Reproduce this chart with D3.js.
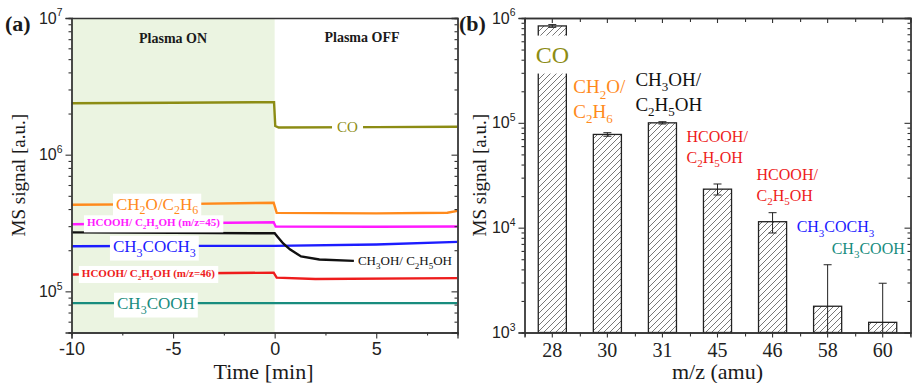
<!DOCTYPE html>
<html>
<head>
<meta charset="utf-8">
<script src="https://cdn.jsdelivr.net/npm/d3@7"></script>
<style>
  body { margin: 0; background: #fff; }
</style>
</head>
<body>
<svg id="chart" width="914" height="383"></svg>
<script>
// ---- panel (a): MS traces, [time (min), signal] ----
const timeTicks = [-10, -5, 0, 5];
const timeMinorTicks = [-7.5, -2.5, 2.5, 7.5];

const coTrace = [[-10, 2.38e6], [-5, 2.4e6], [-0.03, 2.42e6], [0.03, 1.62e6], [0.2, 1.58e6], [5, 1.59e6], [9, 1.6e6]];
const ch2oTrace = [[-10, 4.3e5], [-5, 4.35e5], [-0.05, 4.45e5], [0.1, 3.75e5], [5, 3.72e5], [8.5, 3.76e5], [9, 3.88e5]];
const hcooh45Trace = [[-10, 3.1e5], [-5, 3.15e5], [-0.05, 3.2e5], [0.05, 2.98e5], [5, 2.97e5], [9, 2.98e5]];
const acetoneTrace = [[-10, 2.14e5], [-5, 2.15e5], [0, 2.15e5], [5, 2.2e5], [9, 2.3e5]];
const methanolTrace = [[-10, 2.7e5], [-5, 2.68e5], [0, 2.66e5], [0.15, 2.5e5], [0.42, 2.24e5], [0.75, 2.03e5], [1.3, 1.8e5], [2.2, 1.71e5], [3.9, 1.67e5]];
const hcooh46Trace = [[-10, 1.33e5], [-5, 1.35e5], [-0.05, 1.37e5], [0.1, 1.26e5], [2, 1.23e5], [9, 1.25e5]];
const aceticTrace = [[-10, 8.2e4], [0, 8.2e4], [9, 8.2e4]];

const traceLabels = ['CO', 'CH_2O/C_2H_6', 'HCOOH/ C_2H_5OH (m/z=45)', 'CH_3COCH_3', 'CH_3OH/ C_2H_5OH', 'HCOOH/ C_2H_5OH (m/z=46)', 'CH_3COOH'];
const traceLabelTime = [3.07, -7.81, -9.24, -7.96, 4.1, -9.49, -7.76];
const traceLabelSignal = [1.6e6, 4.35e5, 3.18e5, 2.14e5, 1.67e5, 1.355e5, 8.2e4];

// ---- panel (b): bars ----
const massNumbers = ['28', '30', '31', '45', '46', '58', '60'];
const barSignal = [8.4e5, 7.75e4, 1.0e5, 2.33e4, 1.14e4, 1.78e3, 1.25e3];
const barError = [2.5e4, 3e3, 2.5e3, 2.8e3, 2.5e3, 2.65e3, 1.7e3];
const barLabels = [['CO'], ['CH_2O/', 'C_2H_6'], ['CH_3OH/', 'C_2H_5OH'], ['HCOOH/', 'C_2H_5OH'], ['HCOOH/', 'C_2H_5OH'], ['CH_3COCH_3'], ['CH_3COOH']];
const barLabelSignal = [4.47e5, 2.2e5, 2.58e5, 7.37e4, 3.2e4, 1.02e4, 6.3e3];

const colors = {
  co: '#8c8c14', orange: '#ff8a1c', magenta: '#ff1aff', black: '#111',
  blue: '#1c1cff', red: '#ee1c1c', teal: '#188c7e'
};
const serif = 'Liberation Serif';
const sans = 'Liberation Sans';
const axisColor = '#333';

const svg = d3.select('#chart');

// text with "_n" subscripts
function chem(t, str, size) {
  const parts = str.split(/_(\d)/);
  const shift = size * 0.28;
  let cur = 0;
  parts.forEach((p, i) => {
    if (!p) return;
    const target = i % 2 ? shift : 0;
    t.append('tspan')
      .attr('dy', target - cur)
      .attr('font-size', i % 2 ? Math.round(size * 0.68) : size)
      .text(p);
    cur = target;
  });
}

function tag(g, str, x, y, o) {
  const t = g.append('text')
    .attr('x', x).attr('y', y + o.size * 0.33)
    .attr('font-family', serif)
    .attr('fill', o.color)
    .attr('font-size', o.size)
    .attr('font-weight', o.bold ? 'bold' : null)
    .attr('text-anchor', o.anchor || 'start');
  chem(t, str, o.size);
  if (o.bg) {
    const b = t.node().getBBox();
    const px = o.padX ?? 3, py = o.padY ?? 1;
    g.insert('rect', () => t.node())
      .attr('x', b.x - px).attr('y', b.y - py)
      .attr('width', b.width + 2 * px).attr('height', b.height + 2 * py)
      .attr('fill', '#fff');
  }
  return t;
}

function powerLabels(axisG, size) {
  axisG.attr('font-family', sans);
  axisG.selectAll('.tick text').each(function (d) {
    const t = d3.select(this).text('');
    t.attr('font-family', sans).attr('font-size', size).attr('fill', '#222');
    t.append('tspan').text('10');
    t.append('tspan').attr('dy', -size * 0.45).attr('font-size', size * 0.65).text(Math.round(Math.log10(d)));
  });
}

function styleAxis(g) {
  g.select('.domain').attr('stroke', axisColor).attr('stroke-width', 1.3);
  g.selectAll('.tick line').attr('stroke', axisColor).attr('stroke-width', 1.1);
}

function title(g, str, x, y, size, opts = {}) {
  return g.append('text').attr('x', x).attr('y', y)
    .attr('font-family', serif).attr('font-size', size)
    .attr('font-weight', opts.bold ? 'bold' : null)
    .attr('text-anchor', opts.anchor || 'middle')
    .attr('transform', opts.rotate ? `rotate(-90,${x},${y})` : null)
    .attr('fill', '#1a1a1a').text(str);
}

// ================= panel (a) =================
const aLeft = 71.5, aRight = 457.5, plotTop = 18, plotBottom = 332.5;
const xA = d3.scaleLinear([-10, 9], [aLeft, aRight]);
const yA = d3.scaleLog([5e4, 1e7], [plotBottom, plotTop]);
const logMajorA = yA.ticks().filter(d => Number.isInteger(Math.log10(d)));
const logMinorA = yA.ticks().filter(d => !Number.isInteger(Math.log10(d)));

const gA = svg.append('g');
gA.append('rect')
  .attr('x', xA(-10)).attr('y', plotTop)
  .attr('width', xA(0) - xA(-10)).attr('height', plotBottom - plotTop)
  .attr('fill', '#ebf4e1');

gA.append('clipPath').attr('id', 'clipA').append('rect')
  .attr('x', aLeft).attr('y', plotTop).attr('width', aRight - aLeft).attr('height', plotBottom - plotTop);

const traces = [
  [coTrace, colors.co], [ch2oTrace, colors.orange], [hcooh45Trace, colors.magenta],
  [acetoneTrace, colors.blue], [methanolTrace, colors.black], [hcooh46Trace, colors.red],
  [aceticTrace, colors.teal]
];
const line = d3.line().x(d => xA(d[0])).y(d => yA(d[1]));
gA.append('g').attr('clip-path', 'url(#clipA)')
  .selectAll('path').data(traces).join('path')
  .attr('d', d => line(d[0]))
  .attr('fill', 'none')
  .attr('stroke', d => d[1])
  .attr('stroke-width', 2.4);

// trace labels
const labelStyleA = [
  { color: colors.co, size: 15, padX: 5 },
  { color: colors.orange, size: 17 },
  { color: colors.magenta, size: 11, bold: true },
  { color: colors.blue, size: 17 },
  { color: colors.black, size: 13 },
  { color: colors.red, size: 11, bold: true },
  { color: colors.teal, size: 17 }
];
traceLabels.forEach((s, i) => {
  tag(gA, s, xA(traceLabelTime[i]), yA(traceLabelSignal[i]), { ...labelStyleA[i], bg: true });
});

title(gA, 'Plasma ON', xA(-5), 43, 14, { bold: true });
title(gA, 'Plasma OFF', xA(4.3), 42, 14, { bold: true });

// axes (a)
const axA = gA.append('g');
axA.append('g').attr('transform', `translate(0,${plotBottom})`)
  .call(d3.axisBottom(xA).tickValues(timeMinorTicks).tickSize(3).tickFormat('')).call(styleAxis);
const xAxisA = axA.append('g').attr('transform', `translate(0,${plotBottom})`)
  .call(d3.axisBottom(xA).tickValues(timeTicks).tickSize(6).tickPadding(4).tickFormat(d3.format('d')))
  .call(styleAxis).attr('font-family', sans);
xAxisA.selectAll('.tick text').attr('font-family', sans).attr('font-size', 18).attr('fill', '#222')
  .text(d => d < 0 ? '-' + Math.abs(d) : d);
axA.append('g').attr('transform', `translate(0,${plotTop})`)
  .call(d3.axisTop(xA).tickValues([]).tickSizeOuter(0)).call(styleAxis);

axA.append('g').attr('transform', `translate(${aLeft},0)`)
  .call(d3.axisLeft(yA).tickValues(logMinorA).tickSize(3).tickFormat('')).call(styleAxis);
axA.append('g').attr('transform', `translate(${aLeft},0)`)
  .call(d3.axisLeft(yA).tickValues(logMajorA).tickSize(6).tickPadding(3))
  .call(styleAxis).call(g => powerLabels(g, 16));
axA.append('g').attr('transform', `translate(${aRight},0)`)
  .call(d3.axisRight(yA).tickValues(logMinorA).tickSize(-3).tickFormat('')).call(styleAxis);
axA.append('g').attr('transform', `translate(${aRight},0)`)
  .call(d3.axisRight(yA).tickValues(logMajorA).tickSize(-6).tickFormat('')).call(styleAxis);

title(gA, 'Time [min]', (aLeft + aRight) / 2 - 1, 379, 22);
title(gA, 'MS signal [a.u.]', 25, (plotTop + plotBottom) / 2, 19, { rotate: true });
title(gA, '(a)', 5, 31, 22, { bold: true, anchor: 'start' });

// ================= panel (b) =================
const bLeft = 524.5, bRight = 910.5;
const xB = d3.scaleBand(massNumbers, [bLeft, bRight]).paddingInner(0.49).paddingOuter(0.25);
const yB = d3.scaleLog([1e3, 1e6], [plotBottom, plotTop]);
const logMajorB = yB.ticks().filter(d => Number.isInteger(Math.log10(d)));
const logMinorB = yB.ticks().filter(d => !Number.isInteger(Math.log10(d)));

const defs = svg.append('defs');
const pat = defs.append('pattern').attr('id', 'hatch')
  .attr('patternUnits', 'userSpaceOnUse').attr('width', 6).attr('height', 6);
pat.append('rect').attr('width', 6).attr('height', 6).attr('fill', '#fff');
pat.append('path').attr('d', 'M-1,1 l2,-2 M0,6 l6,-6 M5,7 l2,-2')
  .attr('stroke', '#555').attr('stroke-width', 0.8);

const gB = svg.append('g');
const bars = massNumbers.map((m, i) => ({ m, v: barSignal[i], e: barError[i] }));

gB.selectAll('rect.bar').data(bars).join('rect')
  .attr('class', 'bar')
  .attr('x', d => xB(d.m)).attr('width', xB.bandwidth())
  .attr('y', d => yB(d.v)).attr('height', d => plotBottom - yB(d.v))
  .attr('fill', 'url(#hatch)').attr('stroke', '#222').attr('stroke-width', 1.3);

// error bars
const cap = 4;
const eb = gB.selectAll('g.err').data(bars).join('g').attr('class', 'err')
  .attr('stroke', '#222').attr('stroke-width', 1);
eb.append('line')
  .attr('x1', d => xB(d.m) + xB.bandwidth() / 2).attr('x2', d => xB(d.m) + xB.bandwidth() / 2)
  .attr('y1', d => yB(d.v + d.e))
  .attr('y2', d => d.v - d.e > 1e3 ? yB(d.v - d.e) : plotBottom);
eb.append('line')
  .attr('x1', d => xB(d.m) + xB.bandwidth() / 2 - cap).attr('x2', d => xB(d.m) + xB.bandwidth() / 2 + cap)
  .attr('y1', d => yB(d.v + d.e)).attr('y2', d => yB(d.v + d.e));
eb.filter(d => d.v - d.e > 1e3).append('line')
  .attr('x1', d => xB(d.m) + xB.bandwidth() / 2 - cap).attr('x2', d => xB(d.m) + xB.bandwidth() / 2 + cap)
  .attr('y1', d => yB(d.v - d.e)).attr('y2', d => yB(d.v - d.e));

// bar labels
const labelStyleB = [
  { color: colors.co, size: 24, anchor: 'middle', dx: 0, bg: true, padX: 6, padY: 6 },
  { color: colors.orange, size: 19, dx: -34 },
  { color: colors.black, size: 19, dx: -27 },
  { color: colors.red, size: 16, dx: -31 },
  { color: colors.red, size: 16, dx: -16 },
  { color: colors.blue, size: 16, dx: -31 },
  { color: colors.teal, size: 16, dx: -51 }
];
barLabels.forEach((lines, i) => {
  const st = labelStyleB[i];
  const cx = xB(massNumbers[i]) + xB.bandwidth() / 2 + st.dx;
  lines.forEach((s, k) => {
    tag(gB, s, cx, yB(barLabelSignal[i]) + k * st.size * 1.3, st);
  });
});

// axes (b)
const axB = gB.append('g');
const boundaries = massNumbers.slice(0, -1).map((m, i) => (xB(m) + xB.bandwidth() + xB(massNumbers[i + 1])) / 2);
boundaries.unshift(xB(massNumbers[0]) - xB.step() * xB.paddingInner() / 2);
boundaries.push(xB(massNumbers[massNumbers.length - 1]) + xB.bandwidth() + xB.step() * xB.paddingInner() / 2);
const xPix = d3.scaleLinear([bLeft, bRight], [bLeft, bRight]);

const xAxisB = axB.append('g').attr('transform', `translate(0,${plotBottom})`)
  .call(d3.axisBottom(xB).tickSize(5).tickPadding(5)).call(styleAxis).attr('font-family', serif);
xAxisB.selectAll('.tick text').attr('font-family', serif).attr('font-size', 20).attr('fill', '#222');
axB.append('g').attr('transform', `translate(0,${plotBottom})`)
  .call(d3.axisBottom(xPix).tickValues(boundaries).tickSize(4).tickFormat('').tickSizeOuter(0)).call(styleAxis);
axB.append('g').attr('transform', `translate(0,${plotTop})`)
  .call(d3.axisTop(xB).tickSize(-5).tickFormat('')).call(styleAxis);
axB.append('g').attr('transform', `translate(0,${plotTop})`)
  .call(d3.axisTop(xPix).tickValues(boundaries).tickSize(-4).tickFormat('').tickSizeOuter(0)).call(styleAxis);

axB.append('g').attr('transform', `translate(${bLeft},0)`)
  .call(d3.axisLeft(yB).tickValues(logMinorB).tickSize(3).tickFormat('')).call(styleAxis);
axB.append('g').attr('transform', `translate(${bLeft},0)`)
  .call(d3.axisLeft(yB).tickValues(logMajorB).tickSize(6).tickPadding(3))
  .call(styleAxis).call(g => powerLabels(g, 16));
axB.append('g').attr('transform', `translate(${bRight},0)`)
  .call(d3.axisRight(yB).tickValues(logMinorB).tickSize(-3).tickFormat('')).call(styleAxis);
axB.append('g').attr('transform', `translate(${bRight},0)`)
  .call(d3.axisRight(yB).tickValues(logMajorB).tickSize(-6).tickFormat('')).call(styleAxis);

title(gB, 'm/z (amu)', (bLeft + bRight) / 2, 379, 22);
title(gB, 'MS signal [a.u.]', 486, (plotTop + plotBottom) / 2, 19, { rotate: true });
title(gB, '(b)', 459, 31, 22, { bold: true, anchor: 'start' });
</script>
</body>
</html>
